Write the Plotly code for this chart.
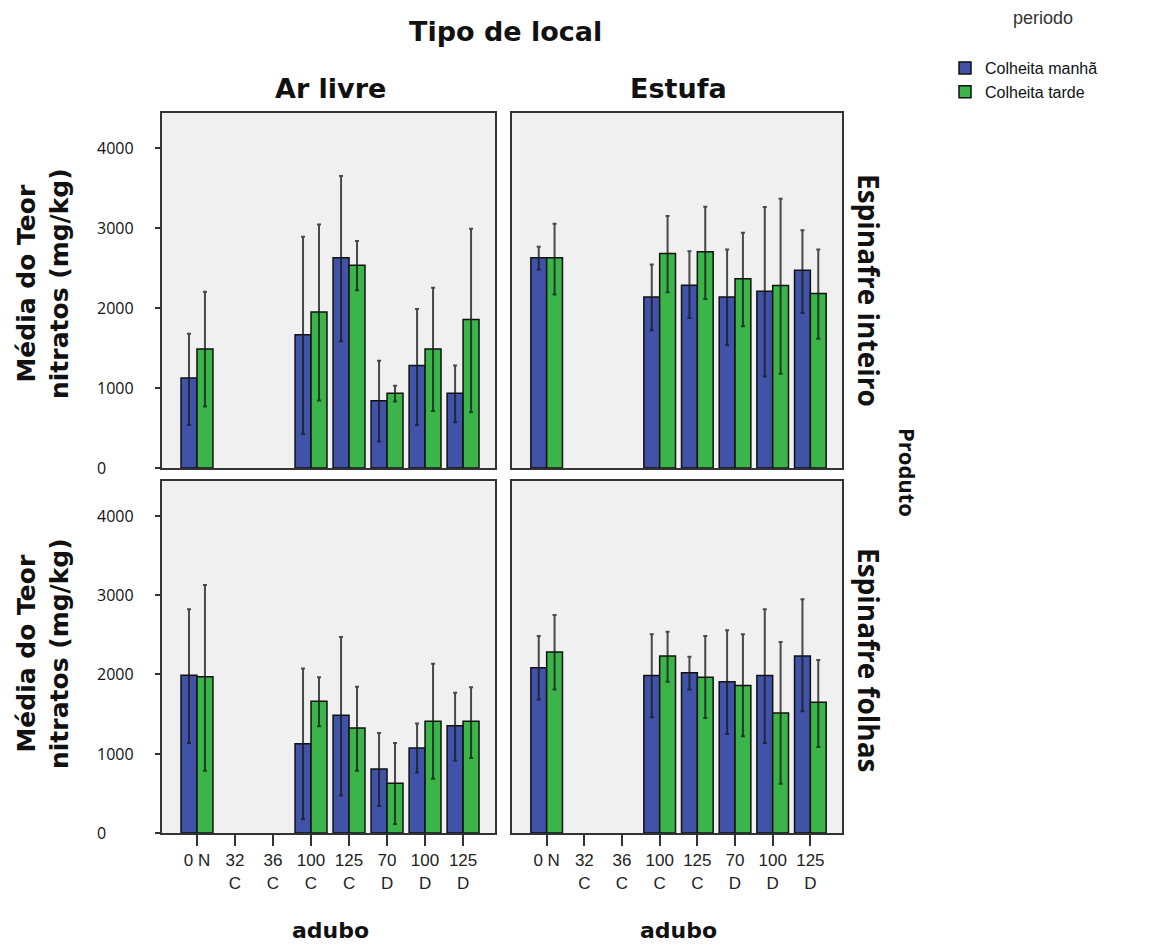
import plotly.graph_objects as go

# ---------------- data ----------------
categories = ["0 N", "32 C", "36 C", "100 C", "125 C", "70 D", "100 D", "125 D"]
tick_labels = ["0 N", "32<br>C", "36<br>C", "100<br>C", "125<br>C", "70<br>D", "100<br>D", "125<br>D"]
series_names = ["Colheita manhã", "Colheita tarde"]
local_names = ["Ar livre", "Estufa"]
produto_names = ["Espinafre inteiro", "Espinafre folhas"]
y_ticks = [0, 1000, 2000, 3000, 4000]

# Ar livre / Espinafre inteiro
arlivre_inteiro_manha = [1125, None, None, 1668, 2629, 840, 1283, 936]
arlivre_inteiro_manha_hi = [1680, None, None, 2893, 3653, 1342, 1990, 1283]
arlivre_inteiro_manha_lo = [539, None, None, 426, 1584, 330, 539, 573]
arlivre_inteiro_tarde = [1488, None, None, 1952, 2537, 936, 1488, 1856]
arlivre_inteiro_tarde_hi = [2203, None, None, 3047, 2838, 1028, 2253, 2993]
arlivre_inteiro_tarde_lo = [769, None, None, 844, 2223, 832, 714, 698]

# Estufa / Espinafre inteiro
estufa_inteiro_manha = [2629, None, None, 2140, 2286, 2140, 2211, 2474]
estufa_inteiro_manha_hi = [2767, None, None, 2545, 2712, 2733, 3264, 2972]
estufa_inteiro_manha_lo = [2483, None, None, 1722, 1877, 1534, 1145, 1940]
estufa_inteiro_tarde = [2629, None, None, 2683, 2704, 2366, 2282, 2182]
estufa_inteiro_tarde_hi = [3056, None, None, 3151, 3269, 2943, 3369, 2733]
estufa_inteiro_tarde_lo = [2169, None, None, 2198, 2115, 1772, 1179, 1618]

# Ar livre / Espinafre folhas
arlivre_folhas_manha = [1991, None, None, 1127, 1485, 806, 1072, 1354]
arlivre_folhas_manha_hi = [2823, None, None, 2076, 2473, 1262, 1380, 1768]
arlivre_folhas_manha_lo = [1135, None, None, 173, 473, 342, 764, 916]
arlivre_folhas_tarde = [1970, None, None, 1662, 1325, 629, 1409, 1409]
arlivre_folhas_tarde_hi = [3127, None, None, 1966, 1844, 1135, 2135, 1840]
arlivre_folhas_tarde_lo = [785, None, None, 1346, 785, 114, 683, 945]

# Estufa / Espinafre folhas
estufa_folhas_manha = [2084, None, None, 1987, 2021, 1907, 1987, 2232]
estufa_folhas_manha_hi = [2485, None, None, 2506, 2224, 2557, 2823, 2949]
estufa_folhas_manha_lo = [1684, None, None, 1460, 1810, 1249, 1135, 1536]
estufa_folhas_tarde = [2283, None, None, 2232, 1966, 1861, 1515, 1650]
estufa_folhas_tarde_hi = [2751, None, None, 2540, 2485, 2506, 2409, 2181]
estufa_folhas_tarde_lo = [1810, None, None, 1907, 1451, 1219, 620, 1085]

# ---------------- styling ----------------
OFF = 8                      # default page margin of the html body
W, H = 1152 - 2 * OFF, 951 - 2 * OFF
BLUE = "#4152a9"
GREEN = "#3bb54a"
colors = [BLUE, GREEN]
x_idx = list(range(len(categories)))


def px(x):
    return (x - OFF) / W


def py(y):
    return 1 - (y - OFF) / H


def plus(m, h):
    return [(b - a) if a is not None else None for a, b in zip(m, h)]


def minus(m, l):
    return [(a - b) if a is not None else None for a, b in zip(m, l)]


panels = [
    ("x", "y", [(arlivre_inteiro_manha, arlivre_inteiro_manha_hi, arlivre_inteiro_manha_lo),
                (arlivre_inteiro_tarde, arlivre_inteiro_tarde_hi, arlivre_inteiro_tarde_lo)]),
    ("x2", "y2", [(estufa_inteiro_manha, estufa_inteiro_manha_hi, estufa_inteiro_manha_lo),
                  (estufa_inteiro_tarde, estufa_inteiro_tarde_hi, estufa_inteiro_tarde_lo)]),
    ("x3", "y3", [(arlivre_folhas_manha, arlivre_folhas_manha_hi, arlivre_folhas_manha_lo),
                  (arlivre_folhas_tarde, arlivre_folhas_tarde_hi, arlivre_folhas_tarde_lo)]),
    ("x4", "y4", [(estufa_folhas_manha, estufa_folhas_manha_hi, estufa_folhas_manha_lo),
                  (estufa_folhas_tarde, estufa_folhas_tarde_hi, estufa_folhas_tarde_lo)]),
]

fig = go.Figure()
for pi, (xa, ya, series) in enumerate(panels):
    for si, (m, h, l) in enumerate(series):
        fig.add_trace(go.Bar(
            x=x_idx, y=m, name=series_names[si],
            xaxis=xa, yaxis=ya,
            marker=dict(color=colors[si], line=dict(color="#111111", width=1.5)),
            error_y=dict(type="data", symmetric=False, array=plus(m, h),
                         arrayminus=minus(m, l), color="rgba(25,25,25,0.78)",
                         thickness=2, width=2),
            legendgroup=series_names[si], showlegend=(pi == 0),
        ))

xdom_l = [px(162), px(495)]
xdom_r = [px(512), px(842)]
ydom_t = [py(468), py(113)]
ydom_b = [py(833), py(481)]
xrange_ = [-0.92, 7.84]
yrange_ = [0, 4440]

frame = dict(showline=True, mirror=True, linecolor="#333333", linewidth=2,
             showgrid=False, zeroline=False)


def xaxis(dom, anchor, bottom):
    d = dict(domain=dom, anchor=anchor, range=xrange_, tickmode="array",
             tickvals=x_idx, ticktext=tick_labels, **frame)
    if bottom:
        d.update(ticks="outside", ticklen=11, tickwidth=2, tickcolor="#333333",
                 showticklabels=True,
                 tickfont=dict(family="Liberation Sans, Arial", size=17, color="#222222"))
    else:
        d.update(ticks="", showticklabels=False)
    return d


def yaxis(dom, anchor, left):
    d = dict(domain=dom, anchor=anchor, range=yrange_, tickmode="array",
             tickvals=y_ticks, showticklabels=False, **frame)
    if left:
        d.update(ticks="outside", ticklen=5, tickwidth=2, tickcolor="#333333")
    else:
        d.update(ticks="")
    return d


fig.update_layout(
    width=W, height=H,
    margin=dict(l=0, r=0, t=0, b=0),
    paper_bgcolor="white", plot_bgcolor="#f0f0f0",
    barmode="group", bargap=0.16, bargroupgap=0.0,
    xaxis=xaxis(xdom_l, "y", False),
    yaxis=yaxis(ydom_t, "x", True),
    xaxis2=xaxis(xdom_r, "y2", False),
    yaxis2=yaxis(ydom_t, "x2", False),
    xaxis3=xaxis(xdom_l, "y3", True),
    yaxis3=yaxis(ydom_b, "x3", True),
    xaxis4=xaxis(xdom_r, "y4", True),
    yaxis4=yaxis(ydom_b, "x4", False),
    legend=dict(x=px(945), y=py(51), xanchor="left", yanchor="top",
                bgcolor="rgba(0,0,0,0)",
                font=dict(family="Liberation Sans, Arial", size=16, color="#111111"),
                tracegroupgap=0, itemwidth=30),
    showlegend=True,
)

ann = []
hdr = dict(family="DejaVu Sans, Arial", size=27, color="#111111")
ann.append(dict(text="periodo", x=px(1043), y=py(18), xref="paper", yref="paper",
                showarrow=False, xanchor="center", yanchor="middle",
                font=dict(family="Liberation Sans, Arial", size=18, color="#333333")))
ann.append(dict(text="<b>Tipo de local</b>", x=px(505), y=py(32), xref="paper", yref="paper",
                showarrow=False, font=hdr, xanchor="center", yanchor="middle"))
for name, cx in zip(local_names, [330, 678]):
    ann.append(dict(text=f"<b>{name}</b>", x=px(cx), y=py(88), xref="paper", yref="paper",
                    showarrow=False, font=hdr, xanchor="center", yanchor="middle"))
    ann.append(dict(text="<b>adubo</b>", x=px(cx), y=py(930), xref="paper", yref="paper",
                    showarrow=False, font=dict(family="DejaVu Sans, Arial", size=22, color="#111111"),
                    xanchor="center", yanchor="middle"))

for name, cy in zip(produto_names, [290, 660]):
    ann.append(dict(text=f"<b>{name}</b>", x=px(869), y=py(cy), xref="paper", yref="paper",
                    showarrow=False, textangle=90,
                    font=dict(family="Open Sans, Arial", size=28, color="#111111"),
                    xanchor="center", yanchor="middle"))
    ann.append(dict(text="<b>Média do Teor<br>nitratos (mg/kg)</b>", x=px(43), y=py(cy - 6),
                    xref="paper", yref="paper", showarrow=False, textangle=-90,
                    font=dict(family="DejaVu Sans, Arial", size=25, color="#111111"),
                    xanchor="center", yanchor="middle"))
ann.append(dict(text="<b>Produto</b>", x=px(908), y=py(472), xref="paper", yref="paper",
                showarrow=False, textangle=90,
                font=dict(family="Open Sans, Arial", size=22, color="#111111"),
                xanchor="center", yanchor="middle"))

for yref in ["y", "y3"]:
    for v in y_ticks:
        ann.append(dict(text=str(v), x=px(95), y=v, xref="paper", yref=yref,
                        showarrow=False, xanchor="left", yanchor="middle",
                        font=dict(family="Open Sans, Arial", size=16, color="#111111")))

fig.update_layout(annotations=ann)
fig.write_html("out.html")
